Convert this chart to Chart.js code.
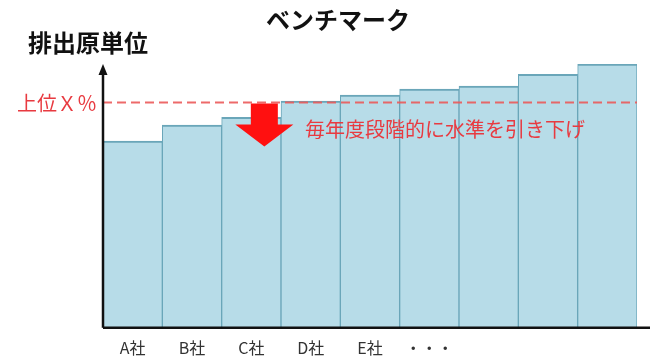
<!DOCTYPE html>
<html><head><meta charset="utf-8">
<script src="https://cdn.jsdelivr.net/npm/chart.js@4"></script>
<style>html,body{margin:0;padding:0;background:#fff;}#wrap{width:650px;height:360px;}</style>
</head><body><div id="wrap"><canvas id="c" width="650" height="360"></canvas></div>
<script>
const categories = ['A社','B社','C社','D社','E社','・・・','','',''];
const values = [70.8, 76.8, 79.8, 85.9, 88.2, 90.5, 91.6, 96.1, 100];
const thresholdValue = [85.4];
const titleText = 'ベンチマーク';
const yAxisLabel = '排出原単位';
const thresholdLabel = '上位Ｘ％';
const noteText = '毎年度段階的に水準を引き下げ';
const FONT = '"Noto Sans CJK JP", "Noto Sans", sans-serif';

const decor = {
  id: 'decor',
  afterDatasetsDraw(chart) {
    const ctx = chart.ctx, ca = chart.chartArea;
    const xs = chart.scales.x, ys = chart.scales.y;
    ctx.save();
    const ty = ys.getPixelForValue(thresholdValue[0]);
    ctx.strokeStyle = 'rgba(235,90,90,0.9)';
    ctx.lineWidth = 2;
    ctx.setLineDash([9, 5]);
    ctx.beginPath(); ctx.moveTo(ca.left, ty); ctx.lineTo(ca.right, ty); ctx.stroke();
    ctx.setLineDash([]);
    ctx.strokeStyle = '#111'; ctx.lineWidth = 2.5;
    ctx.beginPath(); ctx.moveTo(ca.left, ca.bottom); ctx.lineTo(650, ca.bottom); ctx.stroke();
    ctx.beginPath(); ctx.moveTo(ca.left, ca.bottom); ctx.lineTo(ca.left, ca.top + 8); ctx.stroke();
    ctx.fillStyle = '#111';
    ctx.beginPath(); ctx.moveTo(ca.left, ca.top); ctx.lineTo(ca.left - 4.5, ca.top + 11); ctx.lineTo(ca.left + 4.5, ca.top + 11); ctx.closePath(); ctx.fill();
    const ax = xs.getPixelForValue(2) + 13;
    const top = ty + 1;
    ctx.fillStyle = '#ff1010';
    ctx.beginPath();
    ctx.moveTo(ax - 13.5, top); ctx.lineTo(ax + 13.5, top);
    ctx.lineTo(ax + 13.5, top + 21); ctx.lineTo(ax + 29, top + 21);
    ctx.lineTo(ax, top + 43); ctx.lineTo(ax - 29, top + 21);
    ctx.lineTo(ax - 13.5, top + 21); ctx.closePath(); ctx.fill();
    ctx.textBaseline = 'middle';
    ctx.fillStyle = '#e83a40';
    ctx.font = '20px ' + FONT;
    ctx.textAlign = 'left';
    ctx.fillText(noteText, 305, ty + 27);
    ctx.textAlign = 'right';
    ctx.fillText(thresholdLabel, 97, ty + 1);
    ctx.fillStyle = '#111';
    ctx.font = 'bold 24px ' + FONT;
    ctx.textAlign = 'center';
    ctx.fillText(titleText, 338, 20);
    ctx.textAlign = 'left';
    ctx.fillText(yAxisLabel, 28, 43);
    ctx.restore();
  }
};

new Chart(document.getElementById('c'), {
  type: 'bar',
  data: {
    labels: categories,
    datasets: [{
      data: values,
      backgroundColor: '#b7dce8',
      borderColor: '#6aa6b9',
      borderWidth: {top: 2, left: 1, right: 1, bottom: 0},
      borderSkipped: false,
      barPercentage: 1,
      categoryPercentage: 1
    }]
  },
  options: {
    responsive: false,
    animation: false,
    layout: {padding: {left: 103, right: 13, top: 64, bottom: -9}},
    plugins: {legend: {display: false}, tooltip: {enabled: false}, title: {display: false}},
    scales: {
      x: {
        grid: {display: false, drawTicks: false},
        border: {display: false},
        ticks: {color: '#333', font: {size: 16, family: FONT}, padding: 11, maxRotation: 0, autoSkip: false}
      },
      y: {display: false, min: 0, max: 100}
    }
  },
  plugins: [decor]
});
</script></body></html>
